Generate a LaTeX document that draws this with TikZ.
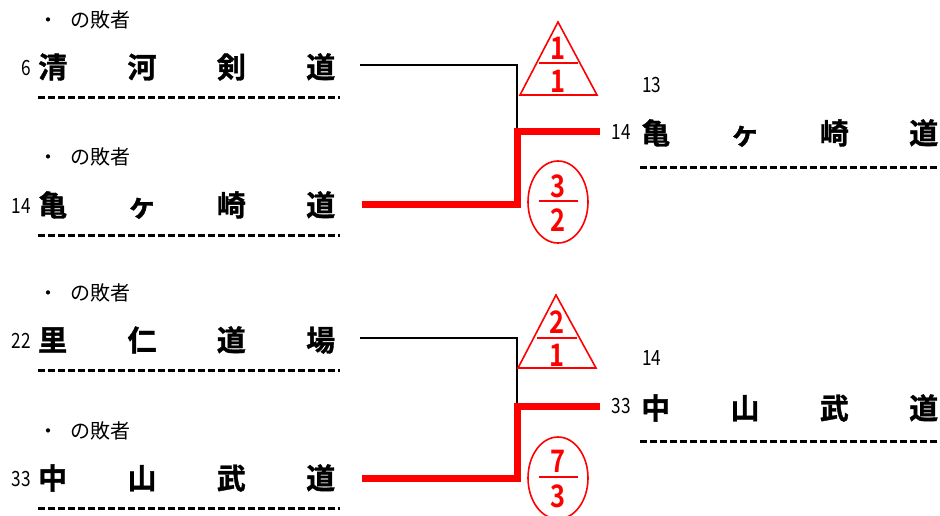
\documentclass[tikz,border=0pt]{standalone}
\usepackage{fontspec}
\setmainfont{Noto Sans CJK JP}[BoldFont={* Bold}]
\newfontfamily\jpbold{Noto Sans CJK JP Bold}
\newfontfamily\jpboldfake{Noto Sans CJK JP Bold}[FakeBold=1.2]
\usetikzlibrary{shapes.geometric}
\begin{document}
\begin{tikzpicture}[x=1pt,y=-1pt,
  sub/.style={anchor=west,inner sep=0pt,font=\fontsize{20}{20}\selectfont},
  num/.style={anchor=east,inner sep=0pt,font=\fontsize{21}{21}\selectfont},
  team/.style={anchor=west,inner sep=0pt,font=\jpboldfake\fontsize{29}{29}\selectfont},
  uline/.style={line width=3pt,dash pattern=on 7pt off 3pt},
  thinline/.style={line width=1.6pt,black},
  winline/.style={line width=7pt,red},
  tri/.style={draw=red,line width=1.6pt},
  bar/.style={red,line width=2.5pt},
  ell/.style={draw=red,ellipse,line width=1.6pt,minimum width=60pt,minimum height=82pt,inner sep=0pt},
  score/.style={text=red,inner sep=0pt,font=\jpbold\fontsize{31}{31}\selectfont},
]
\useasboundingbox (0,0) rectangle (940,515);
\newcommand{\teamname}[4]{\makebox[297pt][s]{#1\hfill#2\hfill#3\hfill#4}}
\newcommand{\nrw}[1]{\scalebox{0.82}[1]{#1}}
% left rows
\foreach \i/\ys/\yn/\nn/\a/\b/\c/\d in {1/20/67/6/清/河/剣/道, 2/157/205/14/亀/ヶ/崎/道, 3/293/340/22/里/仁/道/場, 4/431/478/33/中/山/武/道}{
  \node[sub] (s\i) at (38,\ys) {・\hspace{0.6em}の敗者};
  \node[num] (n\i) at (31,\yn+1) {\nrw{\nn}};
  \node[team] (t\i) at (38,\yn) {\teamname{\a}{\b}{\c}{\d}};
  \coordinate (ul\i) at (38,\yn+30);
  \coordinate (ur\i) at (340,\yn+30);
  \draw[uline] (ul\i) -- (ur\i);
}
% right rows
\node[num,anchor=west] (r1top) at (642,85) {\nrw{13}};
\node[num] (r1n) at (631,132) {\nrw{14}};
\node[team] (r1) at (641,133) {\teamname{亀}{ヶ}{崎}{道}};
\coordinate (rl1) at (640,167);
\coordinate (rr1) at (940,167);
\draw[uline] (rl1) -- (rr1);
\node[num,anchor=west] (r2top) at (642,358) {\nrw{14}};
\node[num] (r2n) at (631,406) {\nrw{33}};
\node[team] (r2) at (641,408) {\teamname{中}{山}{武}{道}};
\coordinate (rl2) at (640,441);
\coordinate (rr2) at (940,441);
\draw[uline] (rl2) -- (rr2);
% bracket 1
\coordinate (a1) at (360,65);
\coordinate (j1) at (517,131);
\coordinate (b1) at (362,204);
\coordinate (w1) at (600,131);
\draw[thinline] (a1) -| (j1);
\draw[winline] (b1) -| (j1) -- (w1);
\coordinate (ta1) at (558,22);
\coordinate (tb1) at (520,95);
\coordinate (tc1) at (597,95);
\draw[tri] (ta1) -- (tb1) -- (tc1) -- cycle;
\node[score] (p1a) at (558,48) {\nrw{1}};
\node[score] (p1b) at (558,81) {\nrw{1}};
\draw[bar] (539,63) -- (578,63);
\node[ell] (e1) at (558,202) {};
\node[score] (q1a) at (558,186) {\nrw{3}};
\node[score] (q1b) at (558,220) {\nrw{2}};
\draw[bar] (539,201) -- (578,201);
% bracket 2
\coordinate (a2) at (360,338);
\coordinate (j2) at (517,406);
\coordinate (b2) at (362,478);
\coordinate (w2) at (600,406);
\draw[thinline] (a2) -| (j2);
\draw[winline] (b2) -| (j2) -- (w2);
\coordinate (ta2) at (556,295);
\coordinate (tb2) at (518,368);
\coordinate (tc2) at (596,368);
\draw[tri] (ta2) -- (tb2) -- (tc2) -- cycle;
\node[score] (p2a) at (557,322) {\nrw{2}};
\node[score] (p2b) at (557,355) {\nrw{1}};
\draw[bar] (537,338) -- (577,338);
\node[ell] (e2) at (558,478) {};
\node[score] (q2a) at (558,461) {\nrw{7}};
\node[score] (q2b) at (558,496) {\nrw{3}};
\draw[bar] (539,477) -- (578,477);
\end{tikzpicture}
\end{document}
